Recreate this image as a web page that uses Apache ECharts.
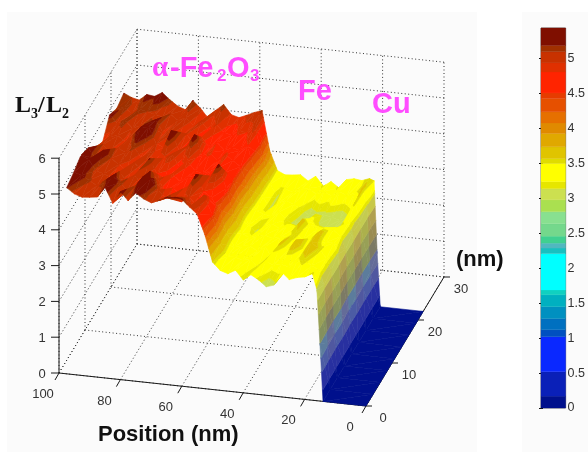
<!DOCTYPE html>
<html><head><meta charset="utf-8">
<style>html,body{margin:0;padding:0;background:#fff}#c{width:588px;height:452px}</style>
<script src="https://cdn.jsdelivr.net/npm/echarts@6/dist/echarts.min.js"></script>
</head><body><div id="c"></div>
<script>
// Position samples (nm), listed from far left to right
const positions=[97.5,95,92.5,90,87.5,85,82.5,80,77.5,75,72.5,70,67.5,65,62.5,60,57.5,55,52.5,50,47.5,45,42.5,40,37.5,35,32.5,30,27.5,25,22.5,20,17.5,16,15,14,0];
// Width samples (nm), front to back
const widths=[0,2.75,5.5,8.25,11,13.75,16.5,19.25,22];
// L3/L2 ratio per width row
const row0=[5.2,5.05,4.98,5.0,5.03,5.32,4.9,5.25,5.02,5.26,5.12,5.03,5.12,5.22,5.25,5.22,5.03,4.85,4.3,3.56,3.35,3.28,3.4,3.15,3.32,3.2,3.03,3.1,3.49,3.3,3.38,3.42,3.55,3.1,1.6,0,0];
const row1=[5.3,5.25,5.12,5.0,5.15,5.32,5.15,4.95,5.1,5.38,5.36,5.05,4.85,5.0,4.8,4.95,4.75,5.05,4.55,3.75,3.4,3.42,3.35,3.4,3.2,3.4,3.3,3.35,3.3,3.45,3.55,3.4,3.3,2.9,1.3,0,0];
const row2=[5.45,5.35,5.05,5.0,4.9,5.1,4.85,5.05,4.8,5.2,5.0,4.7,4.8,4.65,4.9,5.25,4.8,4.65,4.35,3.7,3.35,3.4,3.42,3.3,3.45,3.12,3.6,3.42,3.72,3.45,3.7,3.55,3.3,3.0,1.2,0,0];
const row3=[5.32,5.05,5.3,5.1,4.95,4.8,5.05,4.85,5.2,4.8,4.7,4.85,4.65,4.8,4.7,4.6,4.9,5.25,4.6,3.85,3.4,3.3,3.38,3.42,3.35,3.4,3.45,3.55,3.4,3.45,3.65,3.4,3.4,3.1,1.4,0,0];
const row4=[5.0,5.1,4.9,5.05,4.95,5.15,4.85,5.0,4.75,4.9,5.05,4.7,4.9,4.65,4.6,4.7,4.8,4.7,4.5,3.8,3.3,3.1,3.3,3.4,3.3,3.42,3.35,3.62,3.45,3.4,3.45,3.42,3.25,2.9,1.1,0,0];
const row5=[4.8,5.0,5.05,4.9,5.1,5.35,5.38,4.95,4.85,5.35,4.8,4.95,5.3,4.75,4.85,4.65,4.85,4.7,4.55,3.95,3.38,3.3,3.25,3.4,3.2,3.1,3.05,3.3,3.15,3.1,3.05,3.15,3.3,3.05,1.3,0,0];
const row6=[5.25,5.05,5.15,4.95,5.05,5.15,5.25,4.9,5.0,4.8,4.95,4.7,4.9,4.65,4.8,4.6,4.7,4.65,4.8,4.0,3.42,3.08,3.3,3.4,3.3,3.2,3.05,3.12,3.1,3.05,3.0,3.12,3.55,3.0,1.2,0,0];
const row7=[5.1,5.15,5.0,5.15,5.1,5.05,5.0,5.1,4.95,5.05,4.85,5.0,4.75,4.95,4.75,4.7,4.85,4.8,5.0,4.2,3.45,3.1,3.35,3.3,3.4,3.45,3.3,3.4,3.3,3.45,3.35,3.45,3.6,3.1,1.3,0,0];
const row8=[5.2,5.1,5.05,5.23,5.2,5.33,5.15,5.0,4.92,5.2,5.0,4.75,5.0,5.18,4.92,4.86,4.95,5.05,5.13,4.03,3.5,3.4,3.42,3.45,3.3,3.45,3.2,3.35,3.2,3.45,3.5,3.47,3.55,3.5,1.5,0,0];
const rows=[row0,row1,row2,row3,row4,row5,row6,row7,row8];
// Axis ticks
const positionTicks=[100,80,60,40,20,0];
const widthTicks=[0,10,20,30];
const heightTicks=[0,1,2,3,4,5,6];
const colorbarTicks=[0,0.5,1,1.5,2,2.5,3,3.5,4,4.5,5];
// Discrete colormap
const bandEdges=[0,0.17,0.52,1.02,1.12,1.28,1.45,1.62,1.69,2.21,2.29,2.36,2.46,2.64,2.81,2.98,3.14,3.24,3.5,3.57,3.74,3.93,4.08,4.24,4.43,4.51,4.81,4.94,5.1,5.19,5.44];
const bandColors=['#00108c','#0a20b8','#0a28ff','#0050c0','#0070c0','#0090c0','#00b0c0','#10d0c0','#00ffff','#18c0c0','#50b8c0','#40d090','#74d88c','#88e090','#aae050','#cce050','#e6e600','#ffff00','#e0dc00','#e0c400','#e0a800','#e08a00','#e67000','#e65000','#e63c00','#ff2400','#e03000','#c83200','#a03000','#7f0f00'];
// Muted shading of the steep Fe/Cu wall
const wallEdges=[0,0.3,0.8,1.2,1.6,2.0,2.4,2.8,3.14,3.24,3.5,3.57,3.74,5.44];
const wallColorsA=['#00108c','#2830a0','#5058a0','#646c98','#7c7a64','#9a8c52','#b0a050','#c8c848','#e6e600','#ffff00','#e0dc00','#e0c400','#e0a800'];
const wallColorsB=['#00108c','#2830a0','#4c5ca4','#5c7c9c','#84905e','#98a056','#acb04c','#c4cc50','#e6e600','#ffff00','#e0dc00','#e0c400','#e0a800'];

// Oblique view of the box, screen position of an axis triple
const view={x0:366,y0:406,xp:-3.07,yp:-0.33,xw:2.6,yw:-4.3,yz:-35.8};
function project(p,w,z){return [view.x0+view.xp*p+view.xw*w, view.y0+view.yp*p+view.yw*w+view.yz*z];}

function clipBand(tri,lo,hi){
  function clip(poly,keep,level){
    const out=[];
    for(let i=0;i<poly.length;i++){
      const a=poly[i],b=poly[(i+1)%poly.length];
      const ka=keep(a[2]),kb=keep(b[2]);
      if(ka)out.push(a);
      if(ka!==kb){const t=(level-a[2])/(b[2]-a[2]);out.push([a[0]+t*(b[0]-a[0]),a[1]+t*(b[1]-a[1]),level]);}
    }
    return out;
  }
  let poly=clip(tri,z=>z>=lo,lo);
  if(poly.length)poly=clip(poly,z=>z<=hi,hi);
  return poly;
}

const chart=echarts.init(document.getElementById('c'),null,{renderer:'canvas'});

const cells=[];
for(let r=widths.length-2;r>=0;r--)for(let c=0;c<positions.length-1;c++)cells.push([c,r]);

function renderCell(params,api){
  const c=api.value(0),r=api.value(1);
  const pt=(cc,rr)=>[positions[cc],widths[rr],rows[rr][cc]];
  const A=pt(c,r),B=pt(c+1,r),C=pt(c+1,r+1),D=pt(c,r+1);
  const isWall=c>=32;
  const edges=isWall?wallEdges:bandEdges;
  const colors=isWall?(r%2?wallColorsA:wallColorsB):bandColors;
  const children=[];
  [[D,C,A],[C,A,B]].forEach(tri=>{
    for(let k=0;k<colors.length;k++){
      const lo=edges[k],hi=edges[k+1];
      if(Math.max(tri[0][2],tri[1][2],tri[2][2])<lo||Math.min(tri[0][2],tri[1][2],tri[2][2])>hi)continue;
      const poly=clipBand(tri,lo,hi);
      if(poly.length<3)continue;
      children.push({type:'polygon',silent:true,
        shape:{points:poly.map(q=>api.coord(project(q[0],q[1],q[2])))},
        style:{fill:colors[k],stroke:colors[k],lineWidth:0.6}});
    }
  });
  return {type:'group',children};
}

// dotted box lines
const P0=0,P1=100,W0=0,W1=30,Z0=0,Z1=6;
const gridLines=[];
positionTicks.forEach(p=>{gridLines.push([p,W0,Z0,p,W1,Z0]);gridLines.push([p,W1,Z0,p,W1,Z1]);});
widthTicks.forEach(w=>{gridLines.push([P0,w,Z0,P1,w,Z0]);gridLines.push([P1,w,Z0,P1,w,Z1]);});
heightTicks.forEach(z=>{gridLines.push([P0,W1,z,P1,W1,z]);gridLines.push([P1,W0,z,P1,W1,z]);});

function lineEl(api,a,b,style){
  const s=api.coord(a),e=api.coord(b);
  return {type:'line',silent:true,shape:{x1:s[0],y1:s[1],x2:e[0],y2:e[1]},style};
}

// solid axes with ticks
const axisSegments=[];
axisSegments.push([project(P1,W0,Z0),project(P1,W0,Z1)]);
axisSegments.push([project(P1,W0,Z0),project(P0,W0,Z0)]);
axisSegments.push([project(P0,W0,Z0),project(P0,W1,Z0)]);
heightTicks.forEach(z=>{const q=project(P1,W0,z);axisSegments.push([q,[q[0]-8,q[1]]]);});
positionTicks.forEach(p=>{const q=project(p,W0,Z0);axisSegments.push([q,[q[0]-4,q[1]+7]]);});
widthTicks.forEach(w=>{const q=project(P0,w,Z0);axisSegments.push([q,[q[0]+6,q[1]]]);});

// tick labels
const tickTexts=[];
heightTicks.forEach(z=>{const q=project(P1,W0,z);tickTexts.push([String(z),q[0]-17,q[1]+1]);});
positionTicks.forEach(p=>{const q=project(p,W0,Z0);tickTexts.push([String(p),q[0]-16,q[1]+21.5]);});
widthTicks.forEach(w=>{const q=project(P0,w,Z0);tickTexts.push([String(w),q[0]+17,q[1]+12.5]);});

// titles and phase names
const BOLD='"Liberation Sans"',SERIF='"Liberation Serif"',MAG='#ff4dff',INK='#111111';
const titleTexts=[
 ['L',15,106,24,SERIF,INK],['3',31,114,14,SERIF,INK],['/',38,106,24,SERIF,INK],['L',46,106,24,SERIF,INK],['2',62,114,14,SERIF,INK],
 ['Position (nm)',98,435,22,BOLD,INK],['(nm)',456,260,22,BOLD,INK],
 ['α',152,69,29,SERIF,MAG],['-Fe',170,68.5,29,BOLD,MAG],['2',217,76,17,BOLD,MAG],['O',227,68.5,29,BOLD,MAG],['3',250,76,17,BOLD,MAG],
 ['Fe',298,91.5,29,BOLD,MAG],['Cu',372,105,29,BOLD,MAG]
];

const colorbarCells=bandColors.map((col,i)=>[bandEdges[i],bandEdges[i+1],col]);

chart.setOption({
  animation:false,
  backgroundColor:'#ffffff',
  graphic:[
    {type:'rect',z:-10,silent:true,shape:{x:7,y:12,width:470,height:440},style:{fill:'#fbfbfb'}},
    {type:'rect',z:-10,silent:true,shape:{x:522,y:12,width:66,height:440},style:{fill:'#fbfbfb'}}
  ],
  grid:[
    {left:0,top:0,width:588,height:452,show:false},
    {left:541,top:28,width:29,height:380,show:true,borderColor:'#707070',borderWidth:1,backgroundColor:'transparent'}
  ],
  xAxis:[
    {gridIndex:0,type:'value',min:0,max:588,show:false},
    {gridIndex:1,type:'value',min:0,max:1,show:false}
  ],
  yAxis:[
    {gridIndex:0,type:'value',min:0,max:452,inverse:true,show:false},
    {gridIndex:1,type:'value',min:0,max:5.44,position:'right',splitLine:{show:false},
     axisLine:{show:false},
     axisTick:{show:true,inside:true,length:2,customValues:colorbarTicks,lineStyle:{color:'#111'}},
     axisLabel:{show:true,margin:2,customValues:colorbarTicks,color:'#333',fontSize:12.5,fontFamily:BOLD}},
    {gridIndex:1,type:'value',min:0,max:5.44,position:'left',splitLine:{show:false},
     axisLine:{show:false},axisLabel:{show:false},
     axisTick:{show:true,inside:true,length:2,customValues:colorbarTicks,lineStyle:{color:'#111'}}}
  ],
  series:[
    {type:'custom',name:'box',coordinateSystem:'cartesian2d',xAxisIndex:0,yAxisIndex:0,z:1,silent:true,
     data:gridLines.map((g,i)=>[i]),
     renderItem(params,api){const g=gridLines[api.value(0)];
       return lineEl(api,project(g[0],g[1],g[2]),project(g[3],g[4],g[5]),{stroke:'#333333',lineWidth:1,lineDash:[1,2.5]});}},
    {type:'custom',name:'axes',coordinateSystem:'cartesian2d',xAxisIndex:0,yAxisIndex:0,z:2,silent:true,
     data:axisSegments.map((g,i)=>[i]),
     renderItem(params,api){const g=axisSegments[api.value(0)];
       return lineEl(api,g[0],g[1],{stroke:'#1a1a1a',lineWidth:1});}},
    {type:'custom',name:'surface',coordinateSystem:'cartesian2d',xAxisIndex:0,yAxisIndex:0,z:3,silent:true,
     progressive:0,data:cells,renderItem:renderCell},
    {type:'custom',name:'tickLabels',coordinateSystem:'cartesian2d',xAxisIndex:0,yAxisIndex:0,z:4,silent:true,
     data:tickTexts.map((t,i)=>[i]),
     renderItem(params,api){const t=tickTexts[api.value(0)],q=api.coord([t[1],t[2]]);
       return {type:'text',silent:true,x:q[0],y:q[1],style:{text:t[0],fill:'#333',fontSize:13,fontFamily:BOLD,align:'center',verticalAlign:'middle'}};}},
    {type:'custom',name:'titles',coordinateSystem:'cartesian2d',xAxisIndex:0,yAxisIndex:0,z:5,silent:true,
     data:titleTexts.map((t,i)=>[i]),
     renderItem(params,api){const t=titleTexts[api.value(0)],q=api.coord([t[1],t[2]]);
       return {type:'text',silent:true,x:q[0],y:q[1],style:{text:t[0],fill:t[5],fontSize:t[3],fontFamily:t[4],fontWeight:'bold',align:'left',verticalAlign:'middle'}};}},
    {type:'custom',name:'colorbar',coordinateSystem:'cartesian2d',xAxisIndex:1,yAxisIndex:1,z:1,silent:true,
     data:colorbarCells.map((t,i)=>[i]),
     renderItem(params,api){const t=colorbarCells[api.value(0)];
       const a=api.coord([0,t[1]]),b=api.coord([1,t[0]]);
       return {type:'rect',silent:true,shape:{x:a[0],y:a[1],width:b[0]-a[0],height:b[1]-a[1]},style:{fill:t[2],stroke:t[2],lineWidth:0.3}};}}
  ]
});
</script></body></html>
